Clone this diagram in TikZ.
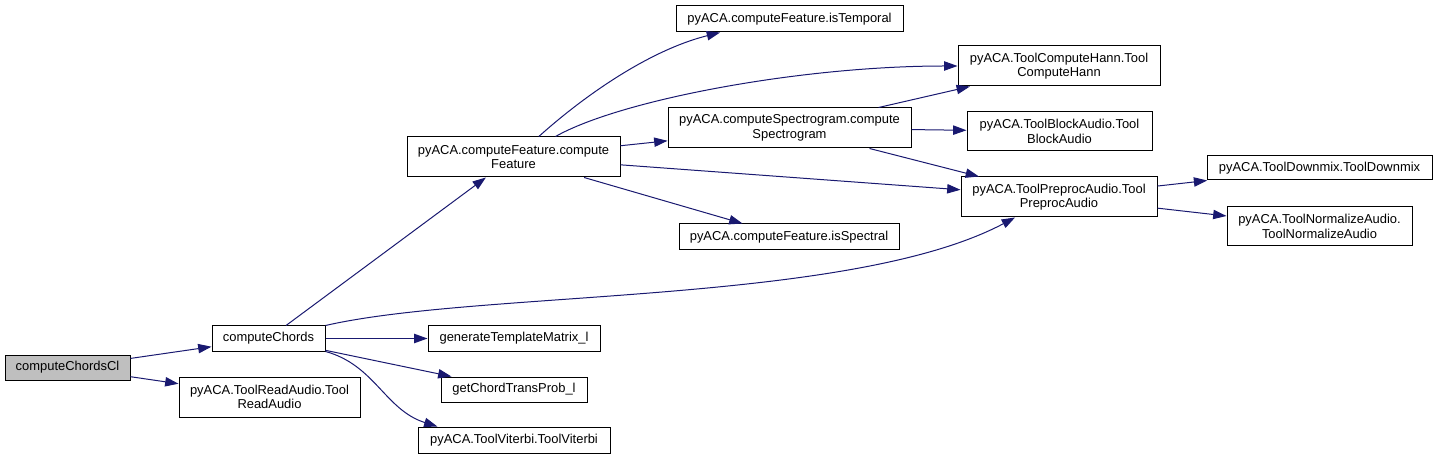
\documentclass[tikz,border=0pt]{standalone}
\usepackage{fontspec}
\setmainfont{Liberation Sans}
\usetikzlibrary{arrows.meta}
\definecolor{edgeblue}{HTML}{191970}
\definecolor{rootgray}{HTML}{BFBFBF}

\begin{document}
\begin{tikzpicture}[x=0.75pt,y=-0.75pt,>={Triangle[length=10pt,width=7pt]},
  fn/.style 2 args={draw=black,line width=0.75pt,fill=white,inner sep=0pt,align=center,
    minimum width=#1*0.75pt,minimum height=#2*0.75pt,font=\fontsize{9.7}{10.9}\selectfont},
  call/.style={->,edgeblue,line width=0.75pt}]
  \useasboundingbox (0,0) rectangle (1437,459);
  % Root and the functions it calls
  \node[fn={125}{25},fill=rootgray] (cl) at (67.5,367.5) {computeChordsCl};
  \node[fn={113}{25}] (cc) at (268.5,338.5) {computeChords};
  \node[fn={181}{40}] (ra) at (269.5,397) {pyACA.ToolReadAudio.Tool\\ReadAudio};
  \node[fn={172}{25}] (gt) at (514,338.5) {generateTemplateMatrix\_l};
  \node[fn={146}{25}] (gp) at (514,389.5) {getChordTransProb\_l};
  \node[fn={192}{26}] (vi) at (514,440) {pyACA.ToolViterbi.ToolViterbi};
  % Feature extraction branch
  \node[fn={213}{40}] (cf) at (513.5,157) {pyACA.computeFeature.compute\\Feature};
  \node[fn={227}{26}] (it) at (789.5,19) {pyACA.computeFeature.isTemporal};
  \node[fn={243}{40}] (cs) at (789.5,128) {pyACA.computeSpectrogram.compute\\Spectrogram};
  \node[fn={220}{26}] (is) at (789,237) {pyACA.computeFeature.isSpectral};
  % Tool helpers
  \node[fn={202}{40}] (ch) at (1059,66) {pyACA.ToolComputeHann.Tool\\ComputeHann};
  \node[fn={185}{39}] (ba) at (1059.5,131.5) {pyACA.ToolBlockAudio.Tool\\BlockAudio};
  \node[fn={196}{40}] (pa) at (1059,197) {pyACA.ToolPreprocAudio.Tool\\PreprocAudio};
  \node[fn={225}{24}] (dm) at (1319.5,168) {pyACA.ToolDownmix.ToolDownmix};
  \node[fn={185}{39}] (na) at (1319.5,226.5) {pyACA.ToolNormalizeAudio.\\ToolNormalizeAudio};
  % Calls
  \draw[call] (cl) -- (cc);
  \draw[call] (cl) -- (ra);
  \draw[call] (cc) -- (cf);
  \draw[call] (cc.north east) .. controls (480,290) and (850,305) .. (pa.-155);
  \draw[call] (cc) -- (gt);
  \draw[call] (cc) -- (gp);
  \draw[call] (cc.south east) .. controls (375,365) and (385,410) .. (vi.170);
  \draw[call] (cf.39) .. controls (585,95) and (650,50) .. (it.-169);
  \draw[call] (cf.26) .. controls (620,100) and (800,66) .. (ch.west);
  \draw[call] (cf) -- (cs);
  \draw[call] (cf) -- (pa);
  \draw[call] (cf) -- (is);
  \draw[call] (cs) -- (ch);
  \draw[call] (cs) -- (ba);
  \draw[call] (cs) -- (pa);
  \draw[call] (pa) -- (dm);
  \draw[call] (pa) -- (na);
\end{tikzpicture}
\end{document}
